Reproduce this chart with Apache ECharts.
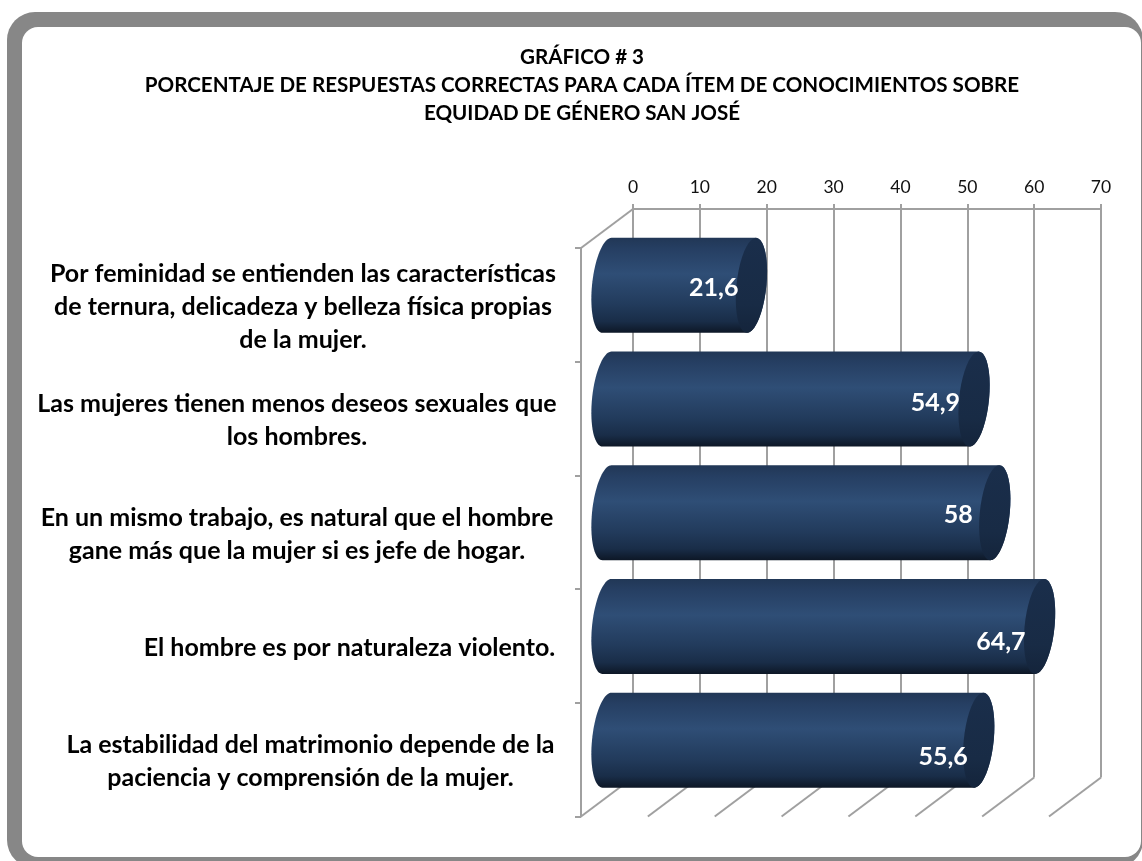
<!DOCTYPE html>
<html><head><meta charset="utf-8">
<style>html,body{margin:0;padding:0;background:#fff}#c{width:1142px;height:861px}</style>
<script src="https://cdn.jsdelivr.net/npm/echarts@6/dist/echarts.min.js"></script>
</head><body><div id="c"></div>
<script>
const titleLines = ['GRÁFICO # 3','PORCENTAJE DE RESPUESTAS CORRECTAS PARA CADA ÍTEM DE CONOCIMIENTOS SOBRE','EQUIDAD DE GÉNERO SAN JOSÉ'];
const categories = [
  'Por feminidad se entienden las características\nde ternura, delicadeza y belleza física propias\nde la mujer.',
  'Las mujeres tienen menos deseos sexuales que\nlos hombres.',
  'En un mismo trabajo, es natural que el hombre\ngane más que la mujer si es jefe de hogar.',
  'El hombre es por naturaleza violento.',
  'La estabilidad del matrimonio depende de la\npaciencia y comprensión de la mujer.'
];
const values = [21.6, 54.9, 58, 64.7, 55.6];
const axisTicks = [0,10,20,30,40,50,60,70];

const FONT = 'Lato';
const DX = 52, DY = 39;            // depth of the 3D box
const RX = 15, RY = 47.5, SKEW = 4.5;
const blockW = [508, 520, 520, 415, 493];
const nudge = [[2,3],[1,4],[-7,2],[1,15],[4,17]];

function capPoints(cx, cy, from, to){
  const pts = [];
  const N = 40;
  for (let i = 0; i <= N; i++){
    const t = from + (to - from) * i / N;
    pts.push([cx + RX*Math.cos(t) - SKEW*Math.sin(t), cy + RY*Math.sin(t)]);
  }
  return pts;
}

const chart = echarts.init(document.getElementById('c'), null, {renderer:'canvas'});
const rich = {};
blockW.forEach((w,i)=>{ rich['r'+i] = {width:w, align:'center', fontFamily:FONT, fontWeight:'bold', fontSize:25, lineHeight:33, color:'#000'}; });

chart.setOption({
  animation:false,
  backgroundColor:'#fff',
  graphic:[
    {type:'rect', z:-10, silent:true, shape:{x:7,y:12,width:1136,height:856,r:28}, style:{fill:'#878787'}},
    {type:'rect', z:-9, silent:true, shape:{x:22,y:27,width:1119,height:830,r:16}, style:{fill:'#fff'}}
  ],
  title:{
    text:titleLines.join('\n'), left:577, top:38, textAlign:'center',
    textStyle:{fontFamily:FONT, fontWeight:'bold', fontSize:20.6, lineHeight:28, color:'#000'}
  },
  grid:[
    {left:633, top:209, width:468, height:568.5, containLabel:false},
    {left:581, top:248, width:468, height:568.5, containLabel:false}
  ],
  xAxis:[
    {type:'value', gridIndex:0, position:'top', min:0, max:70, interval:10,
     axisLine:{show:true, lineStyle:{color:'#a0a0a0', width:2}},
     axisTick:{show:true, length:5, lineStyle:{color:'#a0a0a0', width:2}},
     axisLabel:{margin:13, fontFamily:FONT, fontSize:17.5, color:'#111'},
     splitLine:{show:true, lineStyle:{color:'#a0a0a0', width:2}}},
    {type:'value', gridIndex:1, min:0, max:70, interval:10, show:false}
  ],
  yAxis:[
    {type:'category', gridIndex:0, data:categories, inverse:true, show:false},
    {type:'category', gridIndex:1, data:categories, inverse:true,
     axisLine:{show:true, lineStyle:{color:'#a0a0a0', width:2}},
     axisTick:{show:true, length:6, alignWithLabel:false, lineStyle:{color:'#a0a0a0', width:2}},
     axisLabel:{margin:24, align:'right', padding:[4,0,0,0], rich:rich,
       formatter:function(v,i){ return v.split('\n').map(l=>'{r'+i+'|'+l+'}').join('\n'); }},
     splitLine:{show:false}}
  ],
  series:[
    {type:'custom', xAxisIndex:0, yAxisIndex:0, silent:true, z:1,
     data:axisTicks.map(v=>[v,0]),
     renderItem:function(params, api){
       const p = api.coord([api.value(0), 0]);
       const cs = params.coordSys;
       const st = {stroke:'#a0a0a0', lineWidth:2, fill:null};
       const yb = cs.y + cs.height;
       const kids = [{type:'line', shape:{x1:p[0], y1:yb, x2:p[0]-DX, y2:yb+DY}, style:st}];
       if (params.dataIndex === 0) kids.push({type:'line', shape:{x1:p[0], y1:cs.y, x2:p[0]-DX, y2:cs.y+DY}, style:st});
       return {type:'group', children:kids};
     }},
    {type:'custom', xAxisIndex:0, yAxisIndex:0, silent:true, z:5,
     data:values.map((v,i)=>[v,i]),
     renderItem:function(params, api){
       const i = params.dataIndex;
       const end = api.coord([api.value(0), api.value(1)]);
       const start = api.coord([0, api.value(1)]);
       const cy = end[1] + DY/2;
       const cxL = start[0] - DX/2, cxR = end[0] - DX/2;
       const body = capPoints(cxR, cy, -Math.PI/2, Math.PI/2).concat(capPoints(cxL, cy, Math.PI/2, Math.PI*1.5));
       const cap = capPoints(cxR, cy, 0, Math.PI*2);
       const label = String(api.value(0)).replace('.', ',');
       return {type:'group', children:[
         {type:'polygon', shape:{points:body}, style:{fill:{type:'linear',x:0,y:0,x2:0,y2:1,colorStops:[
           {offset:0,color:'#213756'},{offset:0.12,color:'#263f63'},{offset:0.38,color:'#2f4e76'},
           {offset:0.7,color:'#223b5c'},{offset:0.88,color:'#192d48'},{offset:1,color:'#0d1726'}]}}},
         {type:'polygon', shape:{points:cap}, style:{fill:{type:'linear',x:0,y:0,x2:0,y2:1,colorStops:[
           {offset:0,color:'#1a2e4b'},{offset:0.7,color:'#182b45'},{offset:1,color:'#14243b'}]}}},
         {type:'text', style:{text:label, x:cxR-RX+nudge[i][0], y:cy+nudge[i][1], align:'right', verticalAlign:'middle',
           fontFamily:FONT, fontWeight:'bold', fontSize:25, fill:'#fff'}}
       ]};
     }}
  ]
});
</script></body></html>
